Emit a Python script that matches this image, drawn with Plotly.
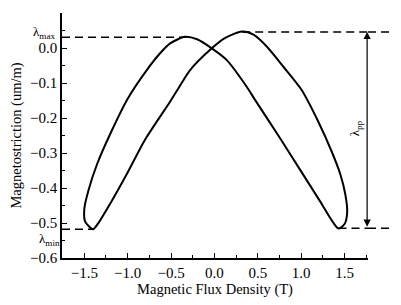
import plotly.graph_objects as go

# Branch A: B increasing (inner on left, outer on right)
bA = [-1.40, -1.34, -1.20, -1.01, -0.80, -0.51, -0.415, -0.28, -0.03, 0.12, 0.316, 0.45, 0.60, 0.80, 1.00, 1.20, 1.35, 1.45, 1.51, 1.53, 1.50, 1.43]
lA = [-0.518, -0.501, -0.444, -0.360, -0.262, -0.153, -0.115, -0.063, -0.001, 0.028, 0.047, 0.038, 0.005, -0.055, -0.118, -0.212, -0.295, -0.360, -0.420, -0.470, -0.503, -0.516]
# Branch B: B decreasing (inner on right, outer on left)
bB = [1.43, 1.34, 1.22, 0.99, 0.757, 0.47, 0.37, 0.14, -0.03, -0.20, -0.34, -0.51, -0.626, -0.78, -1.00, -1.20, -1.35, -1.45, -1.50, -1.49, -1.40]
lB = [-0.516, -0.488, -0.439, -0.349, -0.258, -0.149, -0.110, -0.034, -0.001, 0.025, 0.032, 0.013, -0.015, -0.063, -0.145, -0.245, -0.330, -0.405, -0.460, -0.496, -0.518]

lam_max_left = 0.031
lam_max_right = 0.046
lam_min_left = -0.518
lam_min_right = -0.515

x_ticks = [-1.5, -1.0, -0.5, 0.0, 0.5, 1.0, 1.5]
y_ticks = [0.1, 0.0, -0.1, -0.2, -0.3, -0.4, -0.5, -0.6]

FONT = "Liberation Serif"
Y0, Y1 = -0.6, 0.1

fig = go.Figure()
fig.add_trace(go.Scatter(x=bA + bB[1:], y=lA + lB[1:], mode="lines",
                         line=dict(color="black", width=2, shape="spline", smoothing=0.7),
                         showlegend=False, hoverinfo="skip"))

dash = "8px,5px"
ln = dict(color="black", width=1.5, dash=dash)
# dashed reference lines
fig.add_shape(type="line", xref="x", yref="y", x0=-1.757, x1=-0.32, y0=lam_max_left, y1=lam_max_left, line=ln)
fig.add_shape(type="line", xref="x", yref="y", x0=0.32, x1=1.77, y0=lam_max_right, y1=lam_max_right, line=ln)
fig.add_shape(type="line", xref="paper", yref="paper", x0=1.0, x1=1.09,
              y0=(lam_max_right - Y0) / (Y1 - Y0), y1=(lam_max_right - Y0) / (Y1 - Y0), line=ln)
fig.add_shape(type="line", xref="x", yref="y", x0=-1.757, x1=-1.40, y0=lam_min_left, y1=lam_min_left, line=ln)
fig.add_shape(type="line", xref="x", yref="y", x0=1.43, x1=1.77, y0=lam_min_right, y1=lam_min_right, line=ln)
fig.add_shape(type="line", xref="paper", yref="paper", x0=1.0, x1=1.09,
              y0=(lam_min_right - Y0) / (Y1 - Y0), y1=(lam_min_right - Y0) / (Y1 - Y0), line=ln)

# double arrow lambda_pp
fig.add_annotation(x=1.76, y=lam_max_right, ax=1.76, ay=lam_min_right, xref="x", yref="y",
                   axref="x", ayref="y", showarrow=True, arrowhead=2, startarrowhead=2,
                   arrowside="end+start", arrowsize=1.2, arrowwidth=1.2, arrowcolor="black", text="")
fig.add_annotation(x=1.63, y=-0.23, xref="x", yref="y", text="λ<sub>pp</sub>", showarrow=False,
                   textangle=-90, font=dict(family=FONT, size=13, color="black"))
fig.add_annotation(x=-0.06, y=0.044, xref="paper", yref="y", text="λ<sub>max</sub>", showarrow=False,
                   font=dict(family=FONT, size=13, color="black"), xanchor="center")
fig.add_annotation(x=-0.04, y=-0.548, xref="paper", yref="y", text="λ<sub>min</sub>", showarrow=False,
                   font=dict(family=FONT, size=13, color="black"), xanchor="center")

axis_common = dict(showgrid=False, zeroline=False, showline=True, linecolor="black", linewidth=1.5,
                   ticks="inside", ticklen=5, tickwidth=1.2, tickcolor="black", automargin=False,
                   tickfont=dict(family=FONT, size=15, color="black"), tickformat=".1f",
                   title_font=dict(family=FONT, size=14.5, color="black"))

fig.update_xaxes(range=[-1.757, 1.77], tickvals=x_ticks, title_text="Magnetic Flux Density (T)",
                 minor=dict(ticks="inside", ticklen=3, tickwidth=1, tickcolor="black", dtick=0.25, tick0=0),
                 title_standoff=3, **axis_common)
fig.update_yaxes(range=[Y0, Y1], tickvals=y_ticks, title_text="Magnetostriction (um/m)",
                 minor=dict(ticks="inside", ticklen=3, tickwidth=1, tickcolor="black", dtick=0.05, tick0=0),
                 title_standoff=5, **axis_common)

# page body has an 8px margin, so the plot area is shifted accordingly
fig.update_layout(width=401, height=305, margin=dict(l=54, r=41, t=5, b=55),
                  plot_bgcolor="white", paper_bgcolor="white", showlegend=False)

fig.write_html("out.html")
